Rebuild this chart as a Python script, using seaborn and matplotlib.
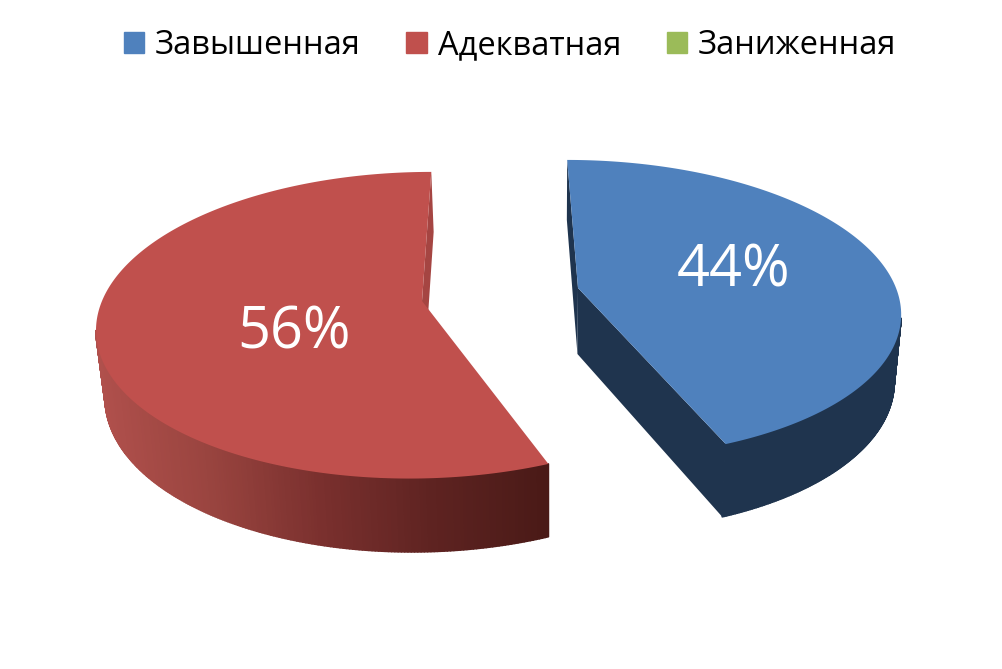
import numpy as np
import seaborn as sns
from matplotlib import pyplot as plt
from matplotlib.collections import PolyCollection
from matplotlib.patches import Patch

categories = ["Завышенная", "Адекватная", "Заниженная"]
shares = [44, 56, 0]
colors = ["#4f81bd", "#c0504d", "#9bbb59"]

# perspective settings per slice: apex x, apex y, half width, depth scale, foreshortening
blue_view = (578, 288, 318, 146, 0.14)
red_view = (422, 301, 320, 149.5, 0.158)
vanish_x = 490
wall_vanish_x = 550
thick = 66

sns.set_theme(style="white")
plt.rcParams["font.family"] = ["Open Sans", "DejaVu Sans"]


def project(t, view, r=1.0):
    x0, y0, a, c, k = view
    u = r * np.sin(t)
    v = r * np.cos(t)
    w = 1 + k * v
    return (x0 + a * u + k * v * vanish_x) / w, y0 - c * v / w


def drop(x, y, t, r=1.0):
    # point on the lower face of the disc
    v = r * np.cos(t)
    return x + (wall_vanish_x - x) * 0.02, y + thick / (1 + 0.1 * v)


def draw_slice(ax, start, end, view, top_color, wall_colors, cut_color, draw_end_cut):
    t = np.linspace(start, end, 400)
    x, y = project(t, view)
    xb, yb = drop(x, y, t)
    # only the front of the rim is seen
    front = np.where(np.cos(t) < -0.2)[0]
    front = front[front < len(t) - 1]
    quads = [[(x[i], y[i]), (x[i + 1], y[i + 1]), (xb[i + 1], yb[i + 1]), (xb[i], yb[i])] for i in front]
    if len(wall_colors) == 1:
        facecols = wall_colors * len(quads)
    else:
        pal = sns.blend_palette(wall_colors, 200)
        lo, hi = 95, 547
        facecols = [pal[int(np.clip((x[i] - lo) / (hi - lo), 0, 0.999) * 200)] for i in front]
    ax.add_collection(PolyCollection(quads, facecolors=facecols, edgecolors=facecols, linewidths=1.2))
    ax_, ay_ = view[0], view[1]
    axb, ayb = drop(ax_, ay_, 0, 0)
    # cut walls from the apex to the rim
    ends = [start, end] if draw_end_cut else [end]
    for e in ends:
        ex, ey = project(e, view)
        exb, eyb = drop(ex, ey, e)
        ax.fill([ax_, ex, exb, axb], [ay_, ey, eyb, ayb], color=cut_color, lw=0)
    ax.fill(np.r_[ax_, x], np.r_[ay_, y], color=top_color, lw=0)


fig = plt.figure(figsize=(10.02, 6.69), dpi=100)
ax = fig.add_axes([0, 0, 1, 1])
ax.set_xlim(0, 1002)
ax.set_ylim(669, 0)
ax.axis("off")

blue_end = shares[0] / sum(shares) * 2 * np.pi
draw_slice(ax, blue_end, 2 * np.pi, red_view, colors[1],
           ["#b0504c", "#99443f", "#7a302e", "#5e2321", "#4a1a17"], "#a54542", False)
draw_slice(ax, 0, blue_end, blue_view, colors[0], ["#1f344e"], "#1f344e", True)

ax.text(734, 271, f"{shares[0]}%", color="white", fontsize=41.5, ha="center", va="center")
ax.text(294, 333, f"{shares[1]}%", color="white", fontsize=41.5, ha="center", va="center")

handles = [Patch(color=c) for c in colors]
fig.legend(handles, categories, loc="upper center", bbox_to_anchor=(0.509, 1.0), ncol=3, frameon=False,
           fontsize=23.5, labelcolor="black", handlelength=0.62, handleheight=0.62, handletextpad=0.34,
           columnspacing=1.4)

fig.savefig("out.png", dpi=100, facecolor="white")
